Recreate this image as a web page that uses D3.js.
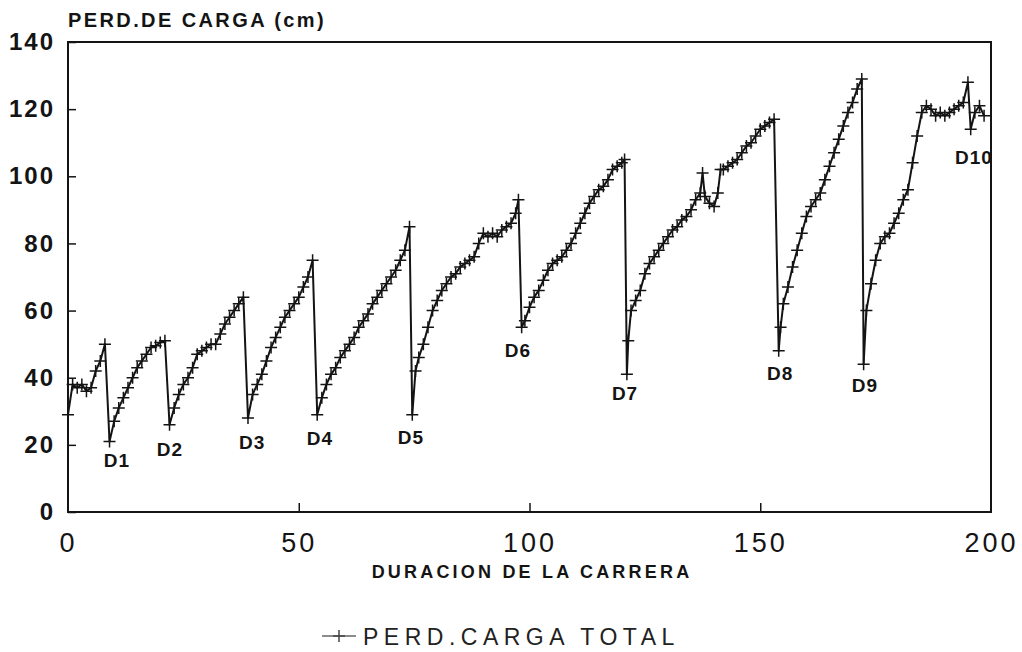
<!DOCTYPE html>
<html>
<head>
<meta charset="utf-8">
<script src="https://cdn.jsdelivr.net/npm/d3@7"></script>
<style>
  html, body { margin: 0; padding: 0; background: #fff; }
  svg { display: block; font-family: "Liberation Sans", Arial, sans-serif; }
</style>
</head>
<body>
<svg id="chart"></svg>
<script>
// Duracion de la carrera (x) y perdida de carga total en cm (y).
const duracion = [
  0, 1, 2, 3, 4, 5, 6, 7, 8,
  9, 10, 11, 12, 13, 14, 15, 16, 17, 18, 19, 20, 21,
  22, 23, 24, 25, 26, 27, 28, 29, 30, 31, 32, 33, 34, 35, 36, 37, 38,
  39, 40, 41, 42, 43, 44, 45, 46, 47, 48, 49, 50, 51, 52, 53,
  54, 55, 56, 57, 58, 59, 60, 61, 62, 63, 64, 65, 66, 67, 68, 69, 70, 71, 72, 73, 74,
  74.6, 75.3, 76, 77, 78, 79, 80, 81, 82, 83, 84, 85, 86, 87, 88, 89, 90, 91, 92, 93, 94, 95, 96, 97, 97.6,
  98.3, 99, 100, 101, 102, 103, 104, 105, 106, 107, 108, 109, 110, 111, 112, 113, 114, 115, 116, 117, 118, 119, 120, 120.6,
  121.1, 121.4, 122, 123, 124, 125, 126, 127, 128, 129, 130, 131, 132, 133, 134, 135, 136, 137, 137.5, 138, 139, 140, 140.8, 141.4,
  142, 143, 144, 145, 146, 147, 148, 149, 150, 151, 152, 153,
  154, 154.4, 155, 156, 157, 158, 159, 160, 161, 162, 163, 164, 165, 166, 167, 168, 169, 170, 171, 172,
  172.4, 173, 174, 175, 176, 177, 178, 179, 180, 181, 182, 183, 184, 185, 186, 187, 188, 189, 190, 191, 192, 193, 194, 195,
  195.6, 196.5, 197.5, 198.5
];
const perdidaCarga = [
  29, 38, 37, 38, 36, 37, 42, 45, 50,
  21, 27, 31, 34, 37, 40, 43, 45, 47, 49, 49.5, 50.5, 51,
  26, 31, 35, 38, 40, 43, 47, 48, 49, 50, 50, 53, 56, 58, 60, 62, 64,
  28, 35, 38, 41, 45, 49, 52, 55, 58, 60, 62, 64, 67, 70, 75,
  29, 34, 38, 41, 43, 46, 48, 50, 52, 55, 57, 59, 62, 64, 66, 68, 70, 72, 75, 78, 85,
  29, 42, 46, 50, 55, 60, 63, 66, 68, 70, 71, 73, 74, 75, 76, 80, 83, 82, 83, 82, 84, 85, 86, 89, 93,
  55, 57, 61, 64, 66, 69, 72, 74, 75, 76, 78, 80, 83, 86, 89, 92, 94, 96, 97, 99, 102, 103, 104, 105,
  41, 51, 60, 63, 66, 71, 74, 76, 78, 80, 82, 84, 85, 87, 88, 90, 93, 95, 101, 94, 92, 91, 95, 102,
  102, 103, 104, 105, 107, 109, 110, 112, 114, 115, 116, 117,
  48, 55, 62, 67, 73, 78, 83, 88, 91, 93, 95, 99, 103, 107, 111, 115, 119, 122, 126, 129,
  44, 60, 68, 75, 80, 82, 83, 86, 89, 93, 96, 104, 112, 119, 121, 120, 118, 119, 118, 119, 120, 121, 122, 128,
  114, 119, 121, 118
];

// Rotulos de las descargas (posicion en unidades del grafico).
const descargas = ['D1', 'D2', 'D3', 'D4', 'D5', 'D6', 'D7', 'D8', 'D9', 'D10'];
const descargaX = [10.6, 22.1, 39.9, 54.6, 74.3, 97.5, 120.7, 154.3, 172.7, 196.3];
const descargaY = [15.2, 18.5, 20.6, 22, 22.3, 48, 35.2, 41.4, 37.8, 105.5];

const xTicks = [0, 50, 100, 150, 200];
const yTicks = [0, 20, 40, 60, 80, 100, 120, 140];

const width = 1022;
const height = 652;
const ink = '#141414';

const svg = d3.select('#chart')
  .attr('width', width)
  .attr('height', height)
  .attr('viewBox', `0 0 ${width} ${height}`);

const xScale = d3.scaleLinear().domain([0, 200]).range([68, 991]);
const yScale = d3.scaleLinear().domain([0, 140]).range([512, 42]);

// Marco del grafico.
svg.append('rect')
  .attr('x', xScale(0))
  .attr('y', yScale(140))
  .attr('width', xScale(200) - xScale(0))
  .attr('height', yScale(0) - yScale(140))
  .attr('fill', 'none')
  .attr('stroke', ink)
  .attr('stroke-width', 2);

// Eje Y (marcas hacia dentro).
const yAxis = svg.append('g')
  .attr('transform', `translate(${xScale(0)},0)`)
  .call(d3.axisLeft(yScale).tickValues(yTicks).tickSize(-8).tickPadding(13));
yAxis.select('.domain').remove();
yAxis.selectAll('.tick line').attr('stroke', ink).attr('stroke-width', 1.5);
yAxis.selectAll('.tick text')
  .attr('fill', ink)
  .style('font-size', '24px')
  .style('font-weight', 'bold')
  .style('letter-spacing', '2px');

// Eje X.
const xAxis = svg.append('g')
  .attr('transform', `translate(0,${yScale(0)})`)
  .call(d3.axisBottom(xScale).tickValues(xTicks).tickSize(-9).tickPadding(21));
xAxis.select('.domain').remove();
xAxis.selectAll('.tick line').attr('stroke', ink).attr('stroke-width', 1.5)
  .style('display', (d) => (d === 0 || d === 200 ? 'none' : null));
xAxis.selectAll('.tick text')
  .attr('fill', ink)
  .style('font-size', '27px')
  .style('letter-spacing', '3px');

// Titulos.
svg.append('text')
  .attr('x', xScale(0))
  .attr('y', 27)
  .attr('fill', ink)
  .style('font-size', '20px')
  .style('font-weight', 'bold')
  .style('letter-spacing', '2.4px')
  .text('PERD.DE CARGA (cm)');

svg.append('text')
  .attr('x', 532)
  .attr('y', 578)
  .attr('text-anchor', 'middle')
  .attr('fill', ink)
  .style('font-size', '18px')
  .style('font-weight', 'bold')
  .style('letter-spacing', '3.2px')
  .text('DURACION DE LA CARRERA');

// Serie.
const puntos = duracion.map((d, i) => [d, perdidaCarga[i]]);

const line = d3.line()
  .x((d) => xScale(d[0]))
  .y((d) => yScale(d[1]));

svg.append('path')
  .datum(puntos)
  .attr('d', line)
  .attr('fill', 'none')
  .attr('stroke', ink)
  .attr('stroke-width', 2)
  .attr('stroke-linejoin', 'round');

const plus = (s) => `M${-s},0H${s}M0,${-s}V${s}`;

svg.append('g')
  .selectAll('path')
  .data(puntos)
  .join('path')
  .attr('transform', (d) => `translate(${xScale(d[0])},${yScale(d[1])})`)
  .attr('d', plus(6))
  .attr('stroke', ink)
  .attr('stroke-width', 1.5)
  .attr('fill', 'none');

// Rotulos D1..D10.
svg.append('g')
  .selectAll('text')
  .data(descargas)
  .join('text')
  .attr('x', (d, i) => xScale(descargaX[i]))
  .attr('y', (d, i) => yScale(descargaY[i]))
  .attr('text-anchor', 'middle')
  .attr('dominant-baseline', 'central')
  .attr('fill', ink)
  .style('font-size', '19px')
  .style('font-weight', 'bold')
  .style('letter-spacing', '1px')
  .text((d) => d);

// Leyenda.
const legend = svg.append('g').attr('transform', 'translate(322,636)');
legend.append('line')
  .attr('x1', 0).attr('x2', 34)
  .attr('y1', 0).attr('y2', 0)
  .attr('stroke', '#666')
  .attr('stroke-width', 1.5);
legend.append('path')
  .attr('transform', 'translate(17,0)')
  .attr('d', plus(6))
  .attr('stroke', '#444')
  .attr('stroke-width', 1.5);
legend.append('text')
  .attr('x', 41)
  .attr('y', 9)
  .attr('fill', '#222')
  .style('font-size', '23px')
  .style('letter-spacing', '5.5px')
  .text('PERD.CARGA TOTAL');
</script>
</body>
</html>
